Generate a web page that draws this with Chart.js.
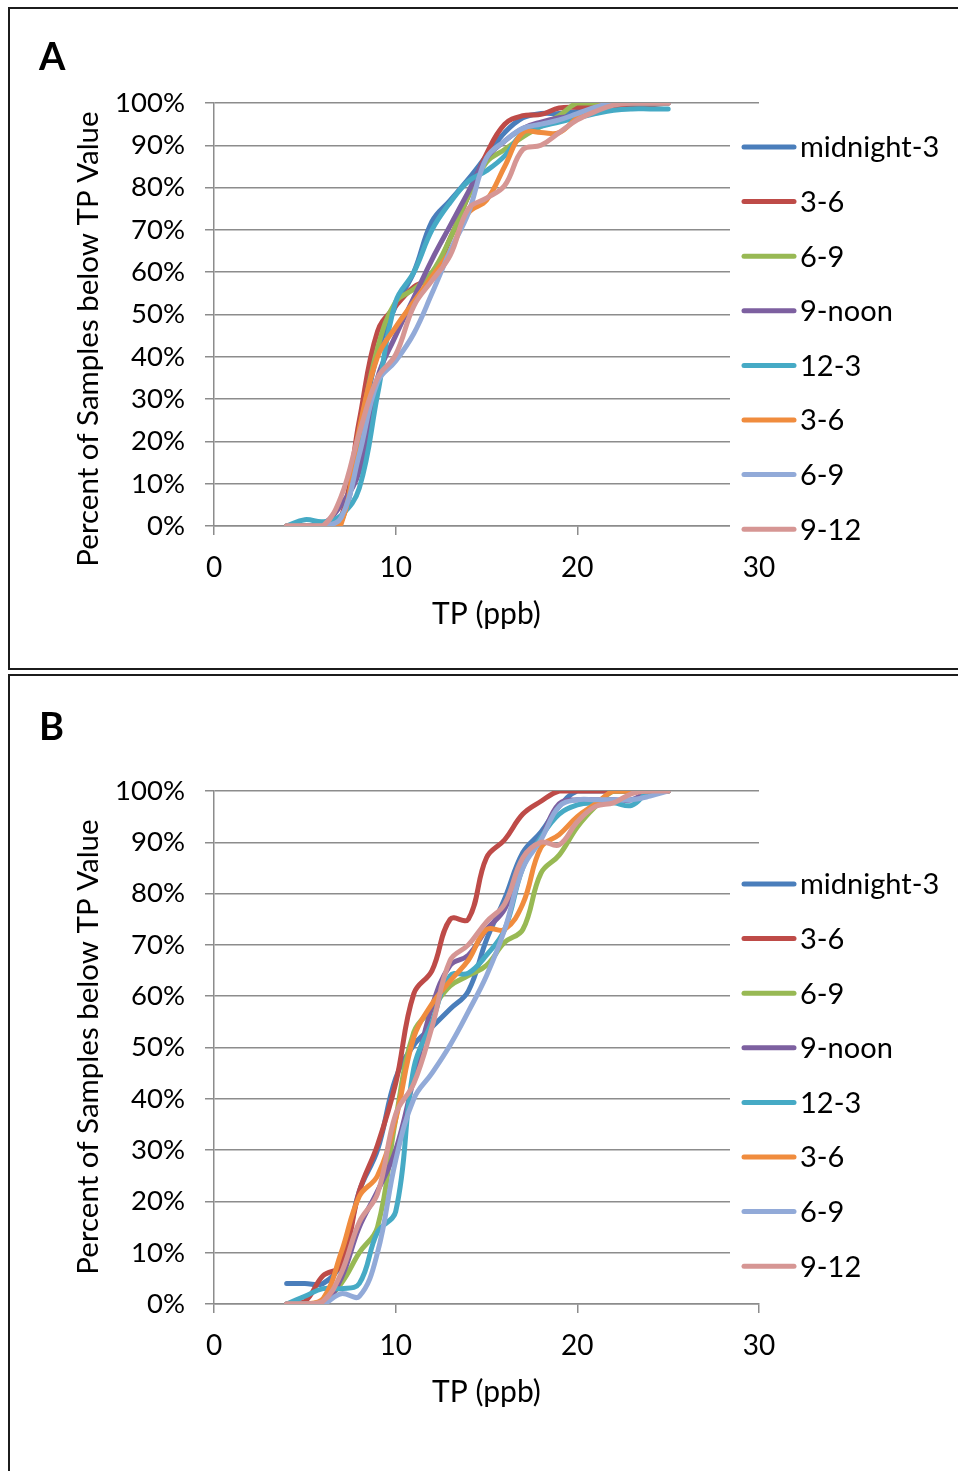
<!DOCTYPE html>
<html>
<head>
<meta charset="utf-8">
<script src="https://cdn.jsdelivr.net/npm/chart.js@4.4.0/dist/chart.umd.min.js"></script>
<style>
  body { margin: 0; background: #fff; width: 958px; height: 1471px; overflow: hidden; position: relative; }
  .box { position: absolute; left: 8px; width: 990px; border: 2px solid #1c1c1c; box-sizing: border-box; }
  #boxA { top: 7px; height: 663px; }
  #boxB { top: 674px; height: 830px; }
  canvas { position: absolute; left: 0; }
</style>
</head>
<body>
<div class="box" id="boxA"></div>
<div class="box" id="boxB"></div>
<canvas id="chartA" width="958" height="670" style="top:0px"></canvas>
<canvas id="chartB" width="958" height="801" style="top:670px"></canvas>
<script>
// TP values (ppb) where each curve is sampled
const tpValues = [4, 5, 6, 7, 8, 9, 10, 11, 12, 13, 14, 15, 16, 17, 18, 19, 20, 21, 22, 23, 24, 25];
const seriesLabels = ['midnight-3', '3-6', '6-9', '9-noon', '12-3', '3-6', '6-9', '9-12'];
const seriesColors = ['#4A7EBB', '#BE4B48', '#98B954', '#7D60A0', '#46AAC5', '#F08C3E', '#92AAD8', '#D69694'];

// Panel A - percent of samples below TP value
const aMidnight3 = [0, 0, 0, 1, 20, 41, 52, 60, 72, 77, 82, 87.5, 93, 96.5, 97.5, 97.5, 98, 99, 100, 100, 100, 100];
const aThreeSix  = [0, 0, 0, 2, 25, 46, 52, 56.5, 59, 68, 78, 88, 95, 97, 97.3, 98.8, 99, 99, 99, 99, 99.5, 100];
const aSixNine   = [0, 0, 0, 1, 22, 42, 53, 56, 60, 68, 78, 86, 89, 92, 94.5, 97, 100, 100, 100, 100, 100, 100];
const aNineNoon  = [0, 0, 0.5, 5, 13, 35, 45, 54, 63, 71, 79, 87, 91, 94, 95.5, 96.5, 97, 98, 100, 100, 100, 100];
const aTwelveThree = [0, 1.5, 1, 2.5, 9, 31, 53, 60, 70, 76.5, 81.5, 84, 87.5, 93, 94.5, 95.5, 96.5, 97.5, 98.3, 98.6, 98.6, 98.6];
const aThreeSixPm  = [0, 0, 0, 0.5, 23, 40, 47, 53, 59, 65, 74, 77, 85, 93, 93, 93, 96.5, 99, 100, 100, 100, 100];
const aSixNinePm   = [0, 0, 0, 2, 17, 34, 39, 45.5, 55, 65, 74, 87, 91, 94, 95, 96, 97.5, 99, 100, 100, 100, 100];
const aNineTwelve  = [0, 0, 0, 7, 22, 35, 40.5, 52, 58, 64, 75, 77.5, 80.5, 89, 90, 93, 96, 98, 99.5, 100, 100, 100];

// Panel B
const bMidnight3 = [4, 4, 4, 8, 22, 30, 44, 50.5, 54, 57.5, 61, 71, 79, 88, 92, 97, 100, 100, 100, 100, 100, 100];
const bThreeSix  = [0, 0.5, 5.5, 7.5, 22, 31, 43, 60.5, 65, 75, 75, 87, 90.5, 95.5, 98, 100, 100, 100, 100, 100, 100, 100];
const bSixNine   = [0, 0, 0.5, 4, 10, 15, 36, 53, 57.5, 62, 64, 66, 70.5, 73, 84, 87.5, 93, 97, 100, 100, 100, 100];
const bNineNoon  = [0, 0, 0, 5, 15, 22, 30, 44, 58, 66, 68, 73, 77, 86, 91, 97.5, 98.3, 98.3, 98.3, 98.3, 100, 100];
const bTwelveThree = [0, 1.5, 3, 3, 4, 14, 18, 46, 55, 64, 64.5, 68, 73, 85, 91, 95.5, 97.3, 97.7, 97.7, 97.2, 100, 100];
const bThreeSixPm  = [0, 0, 1, 10, 21, 25, 36, 52, 58.5, 63, 67, 73, 73, 78, 89, 91.5, 95, 97.5, 100, 100, 100, 100];
const bSixNinePm   = [0, 0, 0, 2, 1.5, 10, 28, 40, 45, 50.5, 57, 64, 73, 85, 90.5, 97, 98.3, 98.3, 98.3, 98.3, 99, 100];
const bNineTwelve  = [0, 0, 0.5, 6, 16, 21.5, 37, 43, 54, 67, 70, 74.5, 78, 87, 90, 89.5, 94, 97, 97.7, 99.5, 100, 100];

const FONT = 'Lato, "Open Sans", sans-serif';
const GRID = '#8c8c8c';

// legend, panel letter and y title, drawn over the chart
const panelDecor = {
  id: 'panelDecor',
  afterDraw(chart, args, opts) {
    const ctx = chart.ctx;
    const n = chart.data.datasets.length;
    ctx.save();
    ctx.fillStyle = '#fff';
    ctx.fillRect(730, opts.legendTop - 24, chart.width - 730, opts.legendGap * (n - 1) + 46);
    ctx.textBaseline = 'middle';
    ctx.font = '29px ' + FONT;
    chart.data.datasets.forEach((ds, i) => {
      const y = opts.legendTop + i * opts.legendGap;
      ctx.strokeStyle = ds.borderColor;
      ctx.lineWidth = 5;
      ctx.lineCap = 'round';
      ctx.beginPath();
      ctx.moveTo(744, y);
      ctx.lineTo(794, y);
      ctx.stroke();
      ctx.fillStyle = '#000';
      ctx.fillText(ds.label, 800, y + 1);
    });

    ctx.font = 'bold 38px ' + FONT;
    ctx.textBaseline = 'alphabetic';
    ctx.fillText(opts.letter, 39, 70);

    ctx.translate(88, opts.titleY);
    ctx.rotate(-Math.PI / 2);
    ctx.textAlign = 'center';
    ctx.textBaseline = 'middle';
    ctx.font = '29.5px ' + FONT;
    ctx.fillText('Percent of Samples below TP Value', 0, 0);
    ctx.restore();
  }
};

function makeChart(id, seriesList, o) {
  const datasets = seriesList.map((vals, i) => ({
    label: seriesLabels[i],
    data: tpValues.map((x, j) => ({ x: x, y: vals[j] })),
    borderColor: seriesColors[i],
    backgroundColor: seriesColors[i],
    borderWidth: 5,
    pointRadius: 0,
    tension: 0.4,
    borderCapStyle: 'round',
    borderJoinStyle: 'round',
    order: seriesList.length - i
  }));

  return new Chart(document.getElementById(id), {
    type: 'line',
    data: { datasets: datasets },
    options: {
      responsive: false,
      animation: false,
      layout: { padding: { top: o.top, right: 199, left: 60, bottom: o.bottom } },
      plugins: {
        legend: { display: false },
        tooltip: { enabled: false },
        panelDecor: { letter: o.letter, legendTop: o.legendTop, legendGap: 54.6, titleY: o.titleY }
      },
      scales: {
        x: {
          type: 'linear', min: 0, max: 30,
          afterFit: s => { s.height = 106; },
          ticks: { stepSize: 10, color: '#000', font: { family: FONT, size: 28 }, padding: 16, maxRotation: 0 },
          grid: { drawOnChartArea: false, drawTicks: true, tickLength: 9, color: GRID, lineWidth: 1.5 },
          border: { color: GRID, width: 1.5 },
          title: { display: true, text: 'TP (ppb)', color: '#000', font: { family: FONT, size: 30 }, padding: 0 }
        },
        y: {
          min: 0, max: 100,
          afterFit: s => { s.width = 154; },
          ticks: { stepSize: 10, color: '#000', font: { family: FONT, size: 27.5 }, padding: 20, callback: v => v + '%' },
          grid: { color: GRID, lineWidth: 1.5, tickLength: 9 },
          border: { color: GRID, width: 1.5 }
        }
      }
    },
    plugins: [panelDecor]
  });
}

makeChart('chartA',
  [aMidnight3, aThreeSix, aSixNine, aNineNoon, aTwelveThree, aThreeSixPm, aSixNinePm, aNineTwelve],
  { letter: 'A', top: 103, bottom: 38, legendTop: 147, titleY: 339 });

makeChart('chartB',
  [bMidnight3, bThreeSix, bSixNine, bNineNoon, bTwelveThree, bThreeSixPm, bSixNinePm, bNineTwelve],
  { letter: 'B', top: 121, bottom: 61, legendTop: 214, titleY: 377 });
</script>
</body>
</html>
